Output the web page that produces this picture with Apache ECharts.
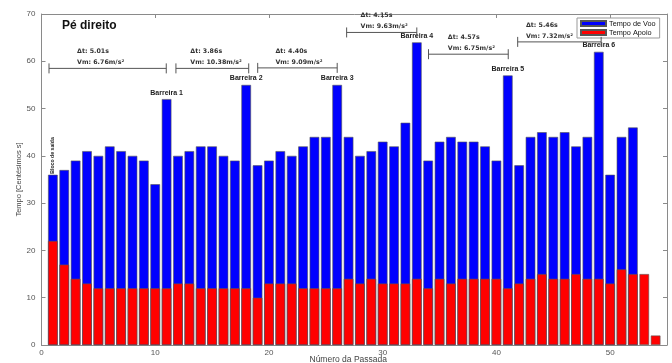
<!DOCTYPE html>
<html><head><meta charset="utf-8">
<script src="https://cdn.jsdelivr.net/npm/echarts@6/dist/echarts.min.js"></script>
<style>html,body{margin:0;padding:0;background:#fff}#c{width:672px;height:363px}</style>
</head><body><div id="c"></div>
<script>
const passadas = [1,2,3,4,5,6,7,8,9,10,11,12,13,14,15,16,17,18,19,20,21,22,23,24,25,26,27,28,29,30,31,32,33,34,35,36,37,38,39,40,41,42,43,44,45,46,47,48,49,50,51,52,53,54];
const tempoVoo = [36,37,39,41,40,42,41,40,39,34,52,40,41,42,42,40,39,55,38,39,41,40,42,44,44,55,44,40,41,43,42,47,64,39,43,44,43,43,42,39,57,38,44,45,44,45,42,44,62,36,44,46,null,null];
const tempoApoio = [22,17,14,13,12,12,12,12,12,12,12,13,13,12,12,12,12,12,10,13,13,13,12,12,12,12,14,13,14,13,13,13,14,12,14,13,14,14,14,14,12,13,14,15,14,14,15,14,14,13,16,15,15,2];
const barreiraPassada = [11,18,26,33,41,49];
const barreiraNome = ["Barreira 1","Barreira 2","Barreira 3","Barreira 4","Barreira 5","Barreira 6"];
const inicioPassada = 1;
const inicioNome = "Bloco de saída";
const segInicio = [0.66, 11.82, 19.01, 26.83, 34.03, 41.87];
const segFim = [10.97, 18.22, 26.0, 33.0, 41.04, 49.21];
const segNivel = [58.5, 58.5, 58.6, 66.1, 61.5, 64.1];
const segTextoX = [3.13, 13.08, 20.57, 28.06, 35.73, 42.6];
const deltaT = ["Δt: 5.01s","Δt: 3.86s","Δt: 4.40s","Δt: 4.15s","Δt: 4.57s","Δt: 5.46s"];
const velMedia = ["Vm: 6.76m/s²","Vm: 10.38m/s²","Vm: 9.09m/s²","Vm: 9.63m/s²","Vm: 6.75m/s²","Vm: 7.32m/s²"];
const xTicks = {min:0, max:55, interval:10};
const yTicks = {min:0, max:70, interval:10};

const FONT = '"Liberation Sans", Arial, sans-serif';
const FONT2 = '"DejaVu Sans", sans-serif';
const AXC = '#8a8a8a';

const vooData = passadas.map((p,i) => {
  const item = {value:[p, tempoVoo[i]]};
  const b = barreiraPassada.indexOf(p);
  if (b >= 0) {
    item.label = {show:true, position:'top', distance:3, formatter:barreiraNome[b],
      fontSize:7, fontWeight:'bold', color:'#222', fontFamily:FONT};
  } else if (p === inicioPassada) {
    item.label = {show:true, position:'top', distance:1, rotate:90, align:'left', verticalAlign:'middle',
      formatter:inicioNome, fontSize:5.2, fontWeight:'bold', color:'#222', fontFamily:FONT};
  }
  return item;
});
const apoioData = passadas.map((p,i) => [p, tempoApoio[i]]);
const segData = segInicio.map((s,i) => [s, segFim[i], segNivel[i], segTextoX[i], i]);

const chart = echarts.init(document.getElementById('c'), null, {renderer:'canvas'});
function mkAxis(base, showLabel, extra){
  return Object.assign({
    axisLine:{show:true, onZero:false, lineStyle:{color:AXC, width:1}},
    axisTick:{show:true, inside:true, length:4, lineStyle:{color:AXC}},
    splitLine:{show:false},
    nameMoveOverlap:false,
    axisLabel:{show:showLabel, fontSize:8, color:'#555', fontFamily:FONT, margin:4, showMaxLabel:false}
  }, base, extra || {});
}
chart.setOption({
  animation:false,
  backgroundColor:'#fff',
  grid:{left:41.5, right:5, top:14, bottom:18, containLabel:false, outerBoundsMode:'none'},
  legend:{
    orient:'vertical', left:577, top:18, itemWidth:25, itemHeight:5, itemGap:2,
    padding:[2,4,2,3], borderColor:'#999', borderWidth:1, backgroundColor:'#fff',
    textStyle:{fontSize:7.3, color:'#111', fontFamily:FONT, padding:[0,0,0,-2]},
    icon:'rect',
    data:['Tempo de Voo','Tempo Apoio']
  },
  xAxis:[
    mkAxis({type:'value', position:'bottom', min:xTicks.min, max:xTicks.max, interval:xTicks.interval,
      name:'Número da Passada', nameLocation:'middle', nameGap:10,
      nameTextStyle:{fontSize:8.5, color:'#444', fontFamily:FONT, padding:[0,12,0,0]}}, true),
    mkAxis({type:'value', position:'top', min:xTicks.min, max:xTicks.max, interval:xTicks.interval}, false)
  ],
  yAxis:[
    mkAxis({type:'value', position:'left', min:yTicks.min, max:yTicks.max, interval:yTicks.interval,
      name:'Tempo [Centésimos s]', nameLocation:'middle', nameGap:19,
      nameTextStyle:{fontSize:7.5, color:'#444', fontFamily:FONT}}, true,
      {axisLabel:{show:true, fontSize:8, color:'#555', fontFamily:FONT, margin:6}}),
    mkAxis({type:'value', position:'right', min:yTicks.min, max:yTicks.max, interval:yTicks.interval}, false)
  ],
  series:[
    {name:'Tempo de Voo', type:'bar', xAxisIndex:0, yAxisIndex:0, data:vooData, barWidth:9.6, barGap:'-100%',
      itemStyle:{color:'#0000ff', borderColor:'#555', borderWidth:0.6}},
    {name:'Tempo Apoio', type:'bar', xAxisIndex:0, yAxisIndex:0, data:apoioData, barWidth:9.6, barGap:'-100%',
      itemStyle:{color:'#ff0000', borderColor:'#555', borderWidth:0.6}},
    {type:'custom', xAxisIndex:0, yAxisIndex:0, data:segData, silent:true, z:5,
      encode:{x:[0,1], y:2},
      renderItem:function(params, api){
        const a = api.coord([api.value(0), api.value(2)]);
        const b = api.coord([api.value(1), api.value(2)]);
        const t = api.coord([api.value(3), api.value(2)]);
        const i = api.value(4);
        const ls = {stroke:'#555', lineWidth:1};
        return {type:'group', children:[
          {type:'line', shape:{x1:a[0], y1:a[1], x2:b[0], y2:b[1]}, style:ls},
          {type:'line', shape:{x1:a[0], y1:a[1]-5, x2:a[0], y2:a[1]+5}, style:ls},
          {type:'line', shape:{x1:b[0], y1:b[1]-5, x2:b[0], y2:b[1]+5}, style:ls},
          {type:'text', style:{text:deltaT[i], x:t[0], y:t[1]-17, fill:'#333', fontSize:6.3, fontWeight:'bold', fontFamily:FONT2, align:'left', verticalAlign:'middle'}},
          {type:'text', style:{text:velMedia[i], x:t[0], y:t[1]-6, fill:'#333', fontSize:6.3, fontWeight:'bold', fontFamily:FONT2, align:'left', verticalAlign:'middle'}}
        ]};
      }
    }
  ],
  graphic:[
    {type:'text', left:62, top:20, style:{text:'Pé direito', fontSize:12, fontWeight:'bold', fill:'#111', fontFamily:FONT}}
  ]
});
</script></body></html>
